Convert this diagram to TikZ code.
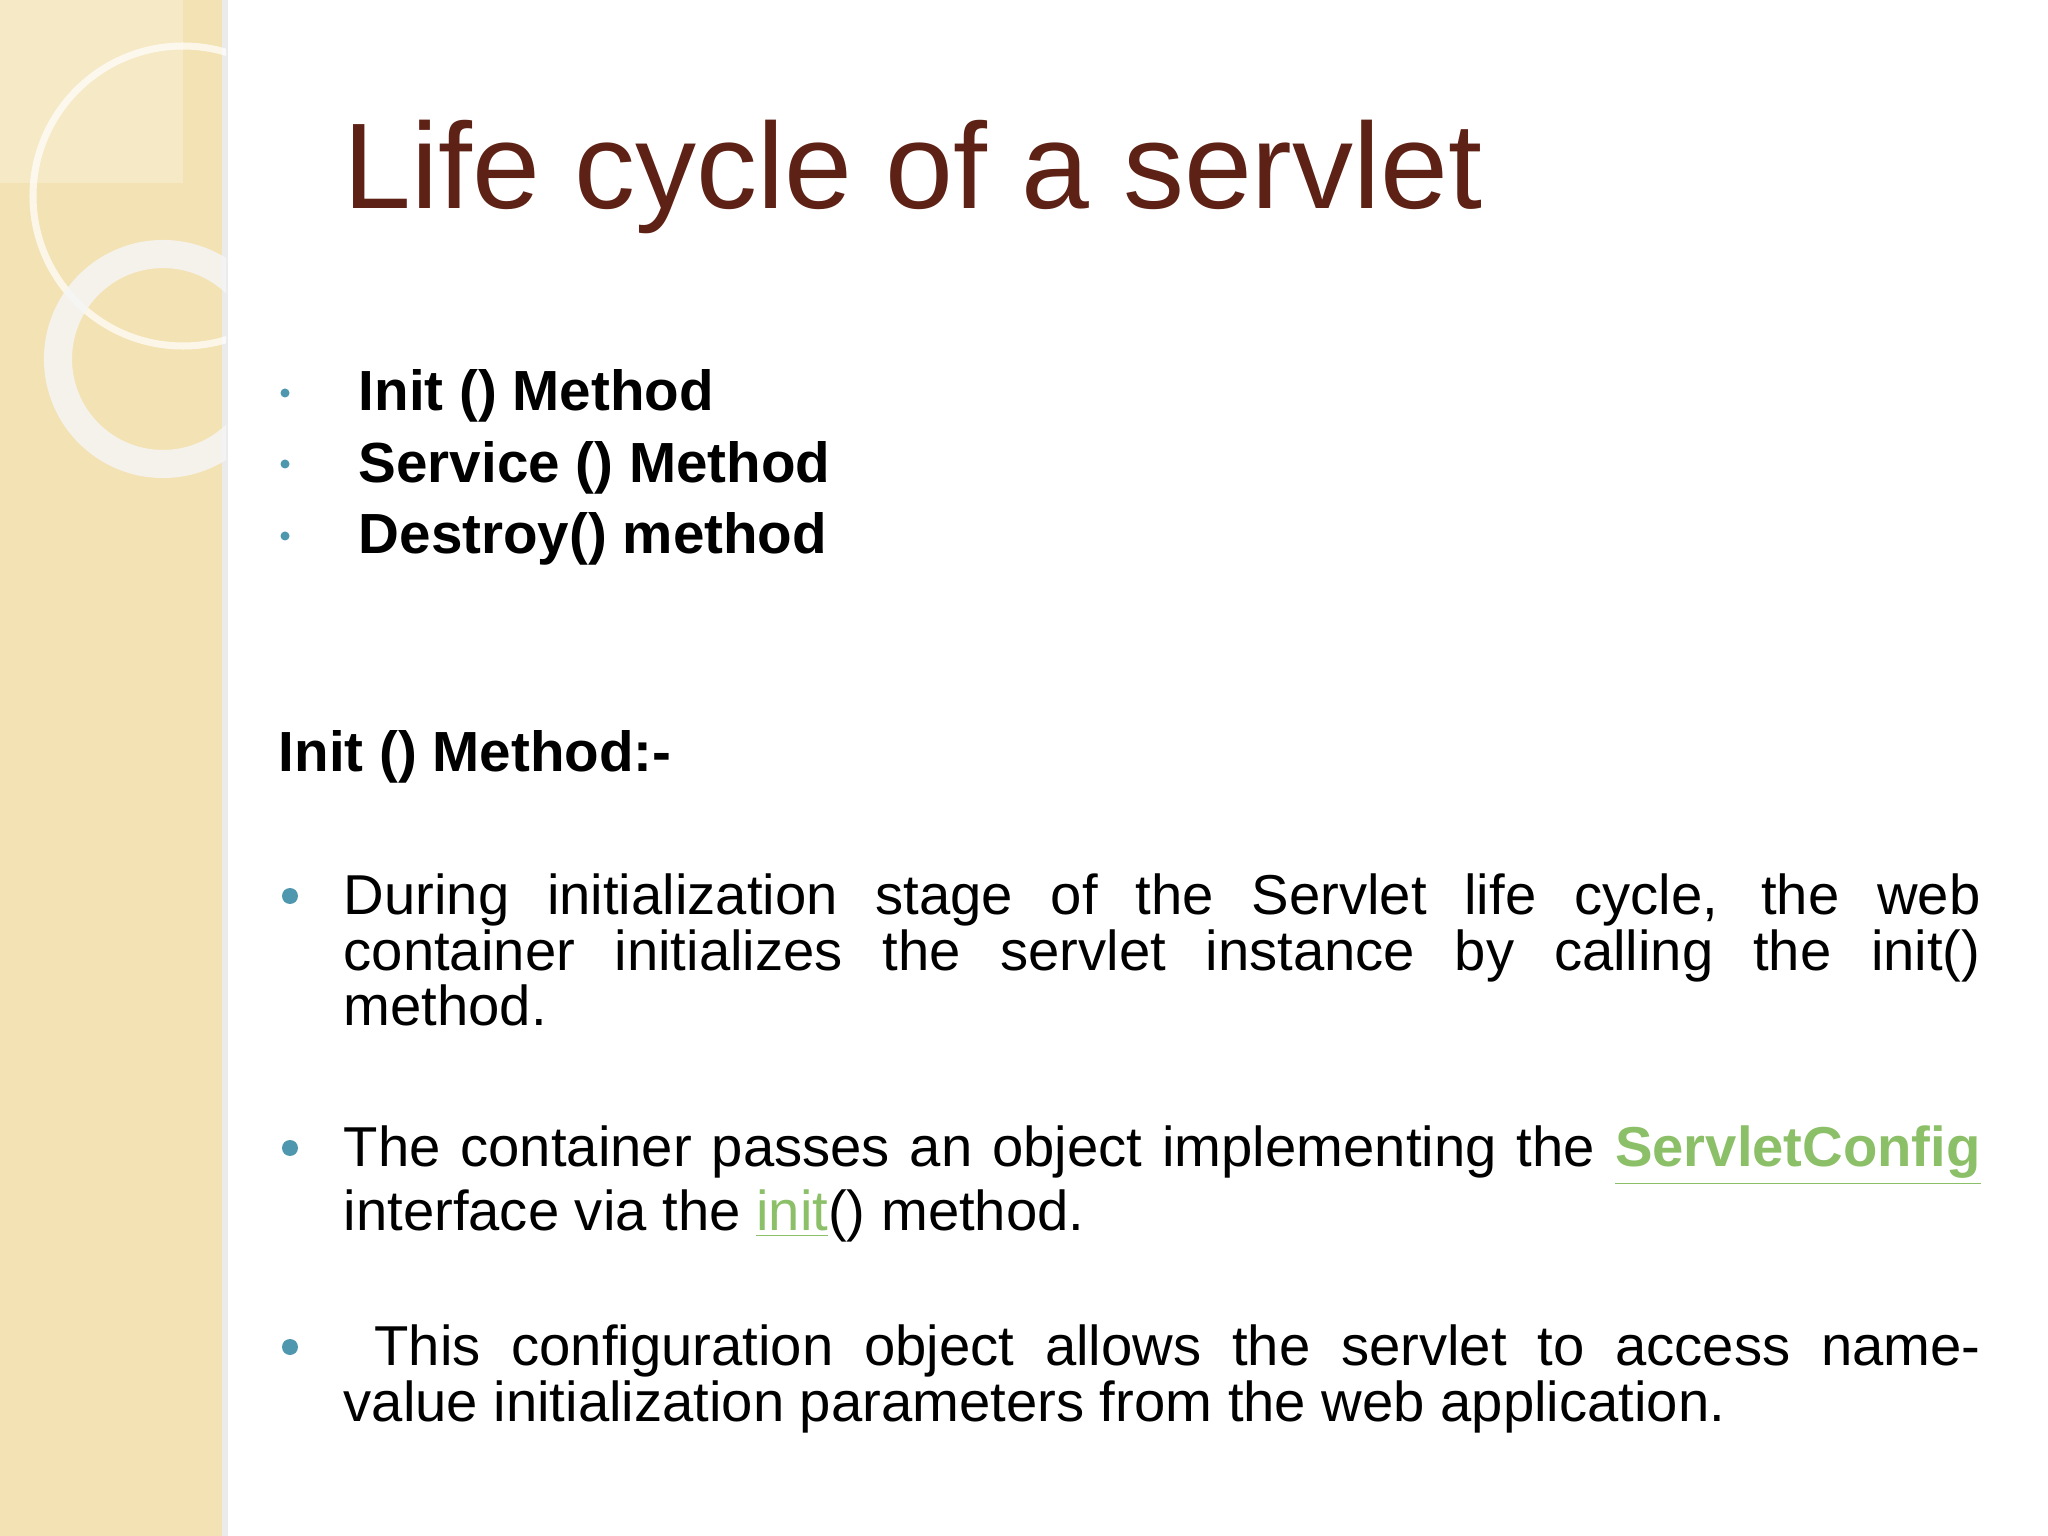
\documentclass[tikz,border=0pt]{standalone}
\usepackage{fontspec}
\setmainfont{Liberation Sans}
\definecolor{band}{HTML}{F3E2B4}
\definecolor{ttl}{HTML}{5E2115}
\definecolor{bul}{HTML}{4F97AE}
\definecolor{lnk}{HTML}{8CC068}
\newcommand{\parasetup}{\lineskiplimit=-20pt\relax\hyphenpenalty=10000\relax}
\tikzset{para/.style={anchor=north west,inner sep=0pt,text width=16.37cm,align=justify,font=\fontsize{16}{15.8}\selectfont},
 bl/.style={anchor=base west,inner sep=0pt,font=\fontsize{16.1}{16}\selectfont\bfseries},
 dot/.style={circle,fill=bul,inner sep=0pt}}
\begin{document}
\begin{tikzpicture}
\useasboundingbox (0,0) rectangle (20.48,-15.36);
\fill[white] (0,0) rectangle (20.48,-15.36);
\fill[band] (0,0) rectangle (2.26,-15.36);
\fill[white,opacity=0.25] (0,0) rectangle (1.83,-1.83);
\fill[black!8] (2.22,0) rectangle (2.28,-15.36);
\begin{scope}
\clip (0,0) rectangle (2.26,-15.36);
\draw[white,opacity=0.7,line width=2pt] (1.83,-1.96) circle (1.5);
\draw[white!92!gray,opacity=0.85,line width=8pt] (1.63,-3.59) circle (1.05);
\end{scope}
\node[anchor=base west,inner sep=0pt,text=ttl,font=\fontsize{34.7}{36}\selectfont] (title) at (3.43,-2.09) {Life cycle of a servlet};
\node[dot,minimum size=0.09cm] (d1) at (2.85,-3.93) {};
\node[dot,minimum size=0.09cm] (d2) at (2.85,-4.64) {};
\node[dot,minimum size=0.09cm] (d3) at (2.85,-5.36) {};
\node[bl] (l1) at (3.58,-4.11) {Init () Method};
\node[bl] (l2) at (3.58,-4.82) {Service () Method};
\node[bl] (l3) at (3.58,-5.54) {Destroy() method};
\node[bl] (h) at (2.78,-7.71) {Init () Method:-};
\node[dot,minimum size=0.16cm] (b1) at (2.9,-8.96) {};
\node[dot,minimum size=0.16cm] (b2) at (2.9,-11.48) {};
\node[dot,minimum size=0.16cm] (b3) at (2.9,-13.47) {};
\node[para] (p1) at (3.43,-8.72) {\parasetup\rule{0pt}{12pt}During initialization stage of the Servlet life cycle, the web\linebreak container initializes the servlet instance by calling the init()\linebreak method.};
\node[para] (p2) at (3.43,-11.24) {\parasetup\rule{0pt}{12pt}The container passes an object implementing the \textcolor{lnk}{\underline{\textbf{ServletConfig}}}\linebreak interface via the \textcolor{lnk}{\underline{init}}() method.};
\node[para] (p3) at (3.43,-13.23) {\parasetup\rule{0pt}{12pt}\ This configuration object allows the servlet to access name-\linebreak value initialization parameters from the web application.};
\end{tikzpicture}
\end{document}
